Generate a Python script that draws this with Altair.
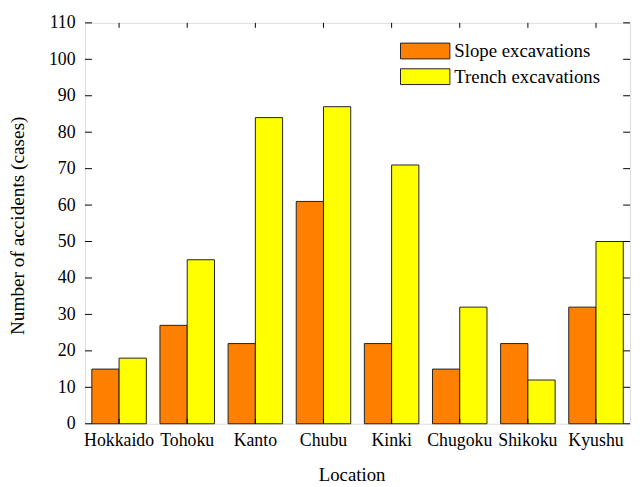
import altair as alt
import pandas as pd

locations = ["Hokkaido", "Tohoku", "Kanto", "Chubu", "Kinki", "Chugoku", "Shikoku", "Kyushu"]
slope = [15, 27, 22, 61, 22, 15, 22, 32]
trench = [18, 45, 84, 87, 71, 32, 12, 50]
series = ["Slope excavations", "Trench excavations"]
colors = ["#FF8000", "#FFFF00"]
y_ticks = list(range(0, 111, 10))

rows = []
for loc, s, t in zip(locations, slope, trench):
    rows.append({"Location": loc, "Type": series[0], "Count": s})
    rows.append({"Location": loc, "Type": series[1], "Count": t})
df = pd.DataFrame(rows)
tick_df = pd.DataFrame({"Count": y_ticks})
cat_df = pd.DataFrame({"Location": locations})

W, H = 552, 406
FONT = "Liberation Serif, Times New Roman, serif"

xscale = alt.Scale(domain=locations, paddingInner=0.2, paddingOuter=0.1)
yscale = alt.Scale(domain=[0, 110], nice=False, zero=True)

x_axis = alt.Axis(
    title="Location", labelAngle=0, ticks=False, domain=False, grid=False,
    labelPadding=8, labelFont=FONT, labelFontSize=18, labelColor="black",
    labelOverlap=False, labelFlush=False,
    titleFont=FONT, titleFontSize=19, titleFontWeight="normal", titleColor="black",
    titleX=270, titleY=57, titleBaseline="alphabetic",
)
y_axis = alt.Axis(
    title="Number of accidents (cases)", values=y_ticks, tickCount=12, ticks=False, domain=False, grid=False,
    labelPadding=10, labelFont=FONT, labelFontSize=18, labelColor="black",
    labelOverlap=False, labelFlush=False,
    titleFont=FONT, titleFontSize=19.5, titleFontWeight="normal", titleColor="black",
    titleX=-68, titleY=H / 2 + 2, titleAngle=-90, titleAlign="center", titleBaseline="middle",
)

X = alt.X("Location:N", scale=xscale, sort=locations, axis=x_axis)
Y = alt.Y("Count:Q", scale=yscale, axis=y_axis)

bars = alt.Chart(df).mark_bar(stroke="#222222", strokeWidth=1).encode(
    x=X,
    xOffset=alt.XOffset("Type:N", sort=series, scale=alt.Scale(paddingInner=0, paddingOuter=0)),
    y=Y,
    color=alt.Color(
        "Type:N",
        scale=alt.Scale(domain=series, range=colors),
        legend=alt.Legend(
            title=None, orient="none", legendX=311, legendY=19, padding=0,
            symbolType="M-1,-8H49V8H-1Z", symbolSize=4,
            symbolStrokeColor="#222222", symbolStrokeWidth=1, symbolOpacity=1,
            labelFont=FONT, labelFontSize=19, labelColor="black", labelOffset=44,
            rowPadding=5,
        ),
    ),
)

left_ticks = alt.Chart(tick_df).mark_rule(color="black", strokeWidth=1).encode(
    y=Y, x=alt.value(0), x2=alt.value(7)
)
right_ticks = alt.Chart(tick_df).mark_rule(color="black", strokeWidth=1).encode(
    y=Y, x=alt.value(W - 7), x2=alt.value(W)
)
top_ticks = alt.Chart(cat_df).mark_rule(color="black", strokeWidth=1).encode(
    x=X, y=alt.value(0), y2=alt.value(5)
)
bottom_ticks = alt.Chart(cat_df).mark_rule(color="black", strokeWidth=1).encode(
    x=X, y=alt.value(H - 5), y2=alt.value(H)
)

chart = alt.layer(bars, left_ticks, right_ticks, top_ticks, bottom_ticks).properties(
    width=W, height=H,
    autosize=alt.AutoSizeParams(type="none"),
    padding={"left": 78, "top": 12, "right": 6, "bottom": 61},
).configure_view(stroke="black", strokeWidth=1.5).configure(background="white", font=FONT)

chart.save("out.html", embed_options={"renderer": "svg", "actions": False})
